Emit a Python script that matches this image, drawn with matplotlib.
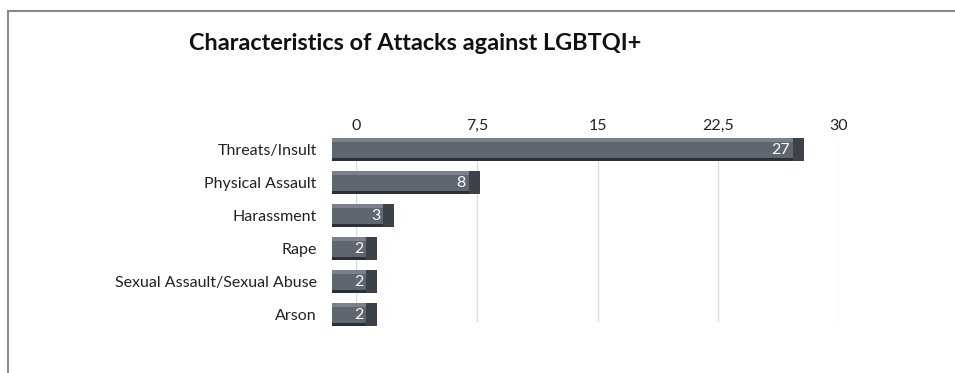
import matplotlib.pyplot as plt
from matplotlib.lines import Line2D

categories = ["Threats/Insult", "Physical Assault", "Harassment", "Rape",
              "Sexual Assault/Sexual Abuse", "Arson"]
counts = [27, 8, 3, 2, 2, 2]
tick_values = [0, 7.5, 15, 22.5, 30]
tick_labels = ["0", "7,5", "15", "22,5", "30"]

plt.rcParams['font.family'] = ['Lato', 'DejaVu Sans']

W, H = 955, 373
fig = plt.figure(figsize=(W / 100, H / 100), dpi=100)

# thin frame along the top and left edge
fig.add_artist(Line2D([8 / W, 8 / W], [0, 1 - 11 / H], color='#8a8a8a', lw=1.5))
fig.add_artist(Line2D([8 / W, 1], [1 - 11 / H, 1 - 11 / H], color='#8a8a8a', lw=1.5))

# value axis: gridlines + top tick labels
ax = fig.add_axes([356 / W, 1 - 322 / H, 483 / W, 182 / H])
ax.set_xlim(0, 30)
ax.set_xticks(tick_values)
ax.set_xticklabels(tick_labels, fontsize=11.5, color='#222222')
ax.xaxis.tick_top()
ax.tick_params(axis='x', length=0, pad=5)
ax.set_yticks([])
ax.grid(axis='x', color='#dcdcdc', linewidth=1.0)
for s in ax.spines.values():
    s.set_visible(False)
ax.patch.set_visible(False)

# bars (drawn on a slightly wider scale to mimic the 3d perspective)
bx = fig.add_axes([332 / W, 1 - 331 / H, 512 / W, 198 / H])
bx.set_xlim(0, 30)
ypos = list(range(len(categories)))
bx.set_ylim(len(categories) - 0.5, -0.5)
depth = 0.55
cap = 0.65
h = 0.72
bx.barh(ypos, [c + depth for c in counts], left=-depth, height=h,
        color='#5f6670', edgecolor='none', zorder=3)
bx.barh([y - h / 2 + 0.06 for y in ypos], [c + depth for c in counts], left=-depth,
        height=0.12, color='#7b818a', edgecolor='none', zorder=4)
bx.barh([y + h / 2 - 0.05 for y in ypos], [c + depth for c in counts], left=-depth,
        height=0.1, color='#2c3035', edgecolor='none', zorder=4)
bx.barh(ypos, [cap] * len(counts), left=counts, height=h,
        color='#3d424a', edgecolor='none', zorder=5)

for y, c in zip(ypos, counts):
    bx.text(c - 0.15, y + 0.03, str(c), color='white', ha='right', va='center',
            fontsize=11.5, zorder=6)

bx.set_yticks(ypos)
bx.set_yticklabels(categories, fontsize=11.5, color='#222222')
bx.tick_params(axis='y', length=0, pad=11)
bx.set_xticks([])
for s in bx.spines.values():
    s.set_visible(False)
bx.patch.set_visible(False)

fig.text(189 / W, 1 - 44 / H, "Characteristics of Attacks against LGBTQI+",
         fontsize=16.9, fontweight='bold', color='#111111', va='center', ha='left')

fig.savefig("out.png", dpi=100)
